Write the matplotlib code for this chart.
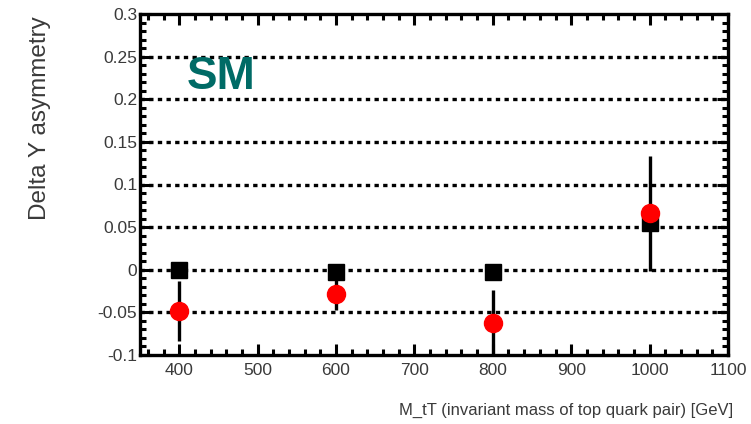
import matplotlib.pyplot as plt
from matplotlib.ticker import MultipleLocator

# --- Data ---
mass = [400, 600, 800, 1000]
asym_black = [0.0, -0.003, -0.003, 0.055]
asym_red = [-0.048, -0.029, -0.062, 0.066]
err_red = [0.035, 0.018, 0.038, 0.068]

# --- Style ---
plt.rcParams['font.family'] = ['Liberation Sans', 'DejaVu Sans']
tick_grey = "#3a3a3a"

fig = plt.figure(figsize=(7.51, 4.24), dpi=100)
ax = fig.add_axes([140 / 751, 1 - 355 / 424, (728 - 140) / 751, (355 - 14) / 424])

ax.errorbar(mass, asym_red, yerr=err_red, fmt='none', ecolor='black',
            elinewidth=2.4, capsize=0, zorder=3)
ax.plot(mass, asym_black, linestyle='none', marker='s', markersize=12,
        color='black', zorder=4)
ax.plot(mass, asym_red, linestyle='none', marker='o', markersize=13,
        color='#ff0000', markeredgecolor='#ff0000', zorder=5)

ax.set_xlim(350, 1100)
ax.set_ylim(-0.1, 0.3)
ax.xaxis.set_major_locator(MultipleLocator(100))
ax.xaxis.set_minor_locator(MultipleLocator(20))
ax.yaxis.set_minor_locator(MultipleLocator(0.01))
ax.set_yticks([-0.1, -0.05, 0, 0.05, 0.1, 0.15, 0.2, 0.25, 0.3])
ax.set_yticklabels(["-0.1", "-0.05", "0", "0.05", "0.1", "0.15", "0.2", "0.25", "0.3"])

ax.tick_params(which='both', direction='in', top=True, right=True,
               width=2.2, colors='black', labelcolor=tick_grey, labelsize=12.5)
ax.tick_params(which='major', length=8)
ax.tick_params(which='minor', length=4)
ax.tick_params(axis='y', pad=2)
ax.tick_params(axis='x', pad=6)
for s in ax.spines.values():
    s.set_linewidth(2.4)

for yv in [-0.05, 0, 0.05, 0.1, 0.15, 0.2, 0.25]:
    ax.axhline(yv, color='black', linewidth=2.4, linestyle=(0, (1.3, 1.3)), zorder=1)

ax.text(410, 0.226, "SM", color='#006b66', fontsize=33, fontweight='bold',
        ha='left', va='center', zorder=6)

fig.text(40 / 751, 1 - 118 / 424, "Delta Y asymmetry", rotation=90,
         ha='center', va='center', fontsize=17.5, color=tick_grey)
fig.text(733 / 751, 1 - 410 / 424, "M_tT (invariant mass of top quark pair) [GeV]",
         ha='right', va='center', fontsize=12, color=tick_grey)

fig.savefig("out.png", dpi=100)
